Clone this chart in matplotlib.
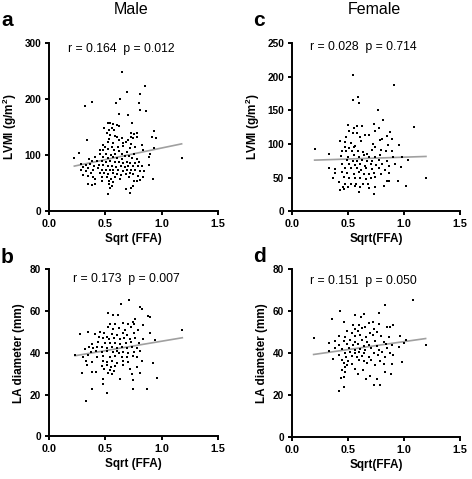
import matplotlib
matplotlib.use("Agg")
import matplotlib.pyplot as plt
import numpy as np

plt.rcParams['font.family'] = ['Liberation Sans', 'DejaVu Sans']
plt.rcParams['mathtext.fontset'] = 'custom'
plt.rcParams['mathtext.bf'] = 'Liberation Sans:bold'
plt.rcParams['mathtext.rm'] = 'Liberation Sans'

# ---------------- data ----------------
# Panel a: Male, LVMI vs Sqrt(FFA)
male_lvmi_x = [0.651,0.849,0.689,0.808,0.630,0.595,0.379,0.319,0.796,0.805,0.864,0.621,0.698,0.739,0.526,0.544,
               0.571,0.600,0.624,0.485,0.559,0.535,0.574,0.935,0.725,0.784,0.754,0.512,0.544,0.586,0.603,0.651,
               0.725,0.745,0.781,0.917,0.949,0.334,0.535,0.624,0.683,0.704,0.526,0.571,0.660,0.728,0.825,0.482,
               0.500,0.556,0.615,0.654,0.719,0.763,0.452,0.482,0.520,0.580,0.624,0.689,0.831,0.935,0.266,0.455,
               0.503,0.547,0.586,0.645,0.674,0.713,0.757,0.896,0.405,0.482,0.520,0.571,0.606,0.645,0.734,0.778,
               0.890,0.225,0.352,0.382,0.429,0.473,0.506,0.541,0.586,0.621,0.660,0.689,0.719,0.763,0.801,1.177,
               0.287,0.325,0.367,0.402,0.441,0.482,0.520,0.556,0.594,0.639,0.674,0.704,0.742,0.787,0.825,0.890,
               0.305,0.349,0.393,0.432,0.467,0.506,0.541,0.571,0.615,0.654,0.689,0.728,0.763,0.808,0.284,0.328,
               0.373,0.452,0.488,0.526,0.565,0.600,0.639,0.680,0.719,0.748,0.846,0.302,0.346,0.388,0.473,0.514,
               0.547,0.586,0.630,0.713,0.793,0.831,0.405,0.473,0.529,0.565,0.754,0.808,0.926,0.349,0.379,0.408,
               0.535,0.784,0.556,0.541,0.683,0.728,0.748,0.719,0.526]
male_lvmi_y = [248,224,212,209,200,193,194,187,192,181,179,174,172,158,158,158,
               155,153,152,149,148,145,144,143,140,139,137,140,136,134,132,130,
               132,130,132,132,130,126,129,127,124,127,123,121,121,120,118,118,
               114,114,114,116,113,114,109,109,110,109,107,105,109,113,104,101,
               102,100,101,101,99,99,101,101,97,96,94,96,94,92,94,93,
               96,94,92,90,90,90,88,89,87,88,85,88,86,86,88,94,
               84,83,84,80,82,83,80,80,79,80,79,80,81,80,80,83,
               78,76,74,76,74,73,73,74,73,72,74,73,74,71,73,71,
               67,67,68,66,67,66,64,66,67,66,71,64,62,60,61,60,
               58,60,58,60,63,60,57,54,54,52,54,55,57,48,47,48,
               48,54,45,41,40,41,44,33,30]

# Panel c: Female, LVMI vs Sqrt(FFA)
female_lvmi_x = [0.548,0.908,0.592,0.548,0.595,0.765,0.809,0.500,0.551,0.583,0.625,0.735,0.774,0.512,0.542,0.580,
                 0.649,0.738,0.875,0.485,0.610,0.690,0.806,0.848,0.426,0.470,0.527,0.565,0.619,0.789,0.893,0.476,
                 0.506,0.557,0.720,0.744,0.798,0.857,0.958,0.202,0.333,0.446,0.485,0.536,0.589,0.631,0.670,0.714,
                 0.839,0.893,0.440,0.500,0.551,0.595,0.640,0.684,0.738,0.789,0.899,0.982,0.491,0.545,0.580,0.625,
                 0.670,0.714,0.780,0.848,1.036,0.446,0.506,0.560,0.604,0.649,0.702,0.750,0.804,0.863,0.917,0.333,
                 0.381,0.476,0.530,0.580,0.619,0.661,0.714,0.774,0.827,0.976,0.387,0.446,0.491,0.551,0.595,0.640,
                 0.684,0.729,0.798,0.863,0.363,0.461,0.512,0.565,0.610,0.661,0.708,0.744,0.848,0.863,0.423,0.476,
                 0.530,0.571,0.631,0.678,0.821,0.946,0.452,0.500,0.560,0.744,0.426,0.467,0.610,0.684,0.601,0.732,
                 1.018,1.196,1.089]
female_lvmi_y = [202,187,170,166,161,151,135,128,124,126,127,129,123,120,117,116,
                 114,120,118,111,110,113,108,112,104,103,102,97,104,106,108,96,
                 94,95,100,95,91,99,98,93,85,89,90,89,90,88,85,91,
                 90,89,82,81,84,81,84,81,81,84,81,80,76,74,75,76,
                 74,75,76,74,76,70,71,69,70,68,70,69,70,68,70,65,
                 63,65,64,65,62,64,63,65,62,66,57,59,57,56,58,56,
                 55,57,56,57,49,51,50,49,50,48,49,51,45,45,43,41,
                 41,41,40,41,38,45,36,36,38,36,32,33,36,34,28,26,
                 38,50,125]

# Panel b: Male, LA diameter vs Sqrt(FFA)
male_la_x = [0.713,0.636,0.810,0.825,0.526,0.571,0.615,0.876,0.763,0.742,0.896,0.541,0.589,0.660,0.704,0.754,
             0.831,0.526,0.571,0.624,0.674,0.728,0.793,0.275,0.343,0.408,0.452,0.488,0.556,0.600,0.654,0.689,
             0.754,0.896,1.183,0.447,0.476,0.512,0.535,0.580,0.630,0.668,0.719,0.763,0.831,0.941,0.438,0.497,
             0.541,0.586,0.630,0.680,0.728,0.801,0.384,0.358,0.393,0.423,0.467,0.512,0.556,0.600,0.645,0.689,
             0.734,0.778,0.319,0.370,0.417,0.467,0.512,0.565,0.600,0.624,0.660,0.704,0.754,0.808,0.231,0.305,
             0.349,0.429,0.482,0.541,0.586,0.645,0.689,0.742,0.784,0.328,0.379,0.476,0.512,0.556,0.600,0.654,
             0.704,0.822,0.340,0.467,0.512,0.547,0.586,0.660,0.926,0.491,0.541,0.577,0.719,0.784,0.290,0.379,
             0.414,0.526,0.556,0.733,0.808,0.955,0.482,0.630,0.742,0.482,0.384,0.748,0.867,0.518,0.325]
male_la_y = [65.1,63.2,62.1,61.0,59.2,57.9,57.9,57.6,56.0,54.9,57.0,53.8,53.6,54.1,53.6,53.8,
             53.3,52.2,51.2,51.7,50.9,52.2,50.9,49.2,49.8,49.2,50.1,49.3,49.0,48.5,49.3,48.4,
             49.3,49.6,51.1,47.7,46.9,47.4,46.4,46.9,46.4,46.9,46.4,46.9,46.6,46.1,45.3,44.9,
             44.5,44.9,44.2,44.5,45.0,44.5,44.2,42.9,42.3,42.9,42.6,42.3,42.9,42.1,42.6,42.1,
             42.6,42.3,41.6,40.5,41.0,40.4,41.0,40.4,40.9,40.1,40.5,40.1,40.4,40.9,38.8,38.1,
             38.8,38.1,38.5,38.1,38.5,37.8,38.1,38.5,37.8,36.2,35.7,36.2,35.6,36.2,35.3,35.9,
             35.6,36.2,34.1,33.7,34.0,33.3,33.7,34.0,34.9,32.1,31.7,31.4,32.4,33.4,30.1,30.9,
             30.9,30.1,29.8,29.8,30.5,27.8,27.3,27.3,27.0,24.9,22.8,22.8,22.8,20.9,17.1]

# Panel d: Female, LA diameter vs Sqrt(FFA)
female_la_x = [0.833,0.432,0.560,0.643,0.780,0.619,0.357,0.464,0.726,0.690,0.774,0.595,0.548,0.655,0.848,0.878,
               0.560,0.625,0.729,0.905,0.491,0.536,0.589,0.699,0.759,0.417,0.476,0.560,0.610,0.661,0.720,0.798,
               0.863,0.967,0.193,0.381,0.461,0.515,0.565,0.625,0.670,0.744,0.818,0.997,1.014,1.193,1.080,0.327,
               0.417,0.491,0.542,0.589,0.640,0.690,0.759,0.839,0.893,0.952,0.381,0.446,0.506,0.565,0.610,0.655,
               0.708,0.780,0.848,0.327,0.470,0.521,0.560,0.595,0.640,0.729,0.804,0.878,0.417,0.482,0.536,0.580,
               0.625,0.684,0.768,0.833,0.902,0.369,0.446,0.500,0.595,0.640,0.708,0.789,0.461,0.491,0.536,0.670,
               0.744,0.818,0.982,0.470,0.446,0.565,0.476,0.631,0.833,0.893,0.589,0.467,0.699,0.440,0.661,0.759,
               0.461,0.417,0.729,0.789,0.881]
female_la_y = [63.1,60.1,58.2,58.5,59.3,57.1,56.1,55.0,55.0,54.2,53.9,53.6,53.3,52.6,52.3,52.3,
               51.4,51.8,51.4,53.4,50.4,49.8,50.7,49.5,50.1,48.2,47.9,48.2,48.7,47.9,48.7,48.2,
               47.9,48.2,47.1,46.0,46.0,46.3,45.5,46.3,45.3,46.0,45.5,45.0,46.3,44.0,65.2,45.0,
               43.9,44.4,43.9,44.4,43.4,43.9,43.4,44.4,43.9,43.1,42.3,41.8,42.3,41.5,42.1,41.5,
               42.3,41.5,42.3,41.2,40.2,40.7,39.9,40.6,39.9,40.2,40.6,39.9,39.0,38.3,38.7,38.0,
               38.7,38.3,39.0,38.3,39.3,37.0,36.7,36.4,36.7,36.1,36.7,36.4,35.1,34.5,34.8,35.1,
               34.2,34.8,35.8,33.2,32.0,32.6,31.0,32.0,31.2,34.8,30.1,28.5,29.1,28.0,27.5,27.5,
               24.0,22.1,25.0,25.0,30.1]

# Regression lines: (slope, intercept)
fit_a = (41.7, 70.8)
fit_c = (5.5, 74.9)
fit_b = (9.05, 36.5)
fit_d = (7.6, 37.9)

stats = {"a": "r = 0.164  p = 0.012", "c": "r = 0.028  p = 0.714",
         "b": "r = 0.173  p = 0.007", "d": "r = 0.151  p = 0.050"}
yticks_a = [0, 100, 200, 300]
yticks_c = [0, 50, 100, 150, 200, 250]
yticks_la = [0, 20, 40, 60, 80]
xticks = [0.0, 0.5, 1.0, 1.5]

# ---------------- figure ----------------
W, H = 472, 479
fig = plt.figure(figsize=(W / 100, H / 100), dpi=100)


def make_ax(l, r, t, b):
    return fig.add_axes([l / W, 1 - b / H, (r - l) / W, (b - t) / H])


panels = [
    ("a", make_ax(49, 218, 43, 211), male_lvmi_x, male_lvmi_y, fit_a, yticks_a, "LVMI (g/m$\\mathbf{^2}$)", "Sqrt (FFA)", (0.64, 289)),
    ("c", make_ax(292, 460, 43, 211.3), female_lvmi_x, female_lvmi_y, fit_c, yticks_c, "LVMI (g/m$\\mathbf{^2}$)", "Sqrt(FFA)", (0.634, 244.5)),
    ("b", make_ax(49, 218, 269.3, 436.3), male_la_x, male_la_y, fit_b, yticks_la, "LA diameter (mm)", "Sqrt (FFA)", (0.688, 75.2)),
    ("d", make_ax(292, 460, 269.3, 437), female_la_x, female_la_y, fit_d, yticks_la, "LA diameter (mm)", "Sqrt(FFA)", (0.641, 74.6)),
]

for key, ax, xs, ys, fit, yt, ylab, xlab, tpos in panels:
    xs = np.asarray(xs)
    ys = np.asarray(ys)
    ax.scatter(xs, ys, s=2.2, marker='s', color='black', linewidths=0, zorder=3)
    lx = np.array([xs.min(), xs.max()])
    ax.plot(lx, fit[0] * lx + fit[1], color='#a0a0a0', lw=1.2, zorder=2)
    ax.set_xlim(0, 1.5)
    ax.set_ylim(0, yt[-1])
    ax.set_xticks(xticks)
    ax.set_xticklabels([f"{v:.1f}" for v in xticks])
    ax.set_yticks(yt)
    ax.set_yticklabels([str(v) for v in yt])
    for s in ("top", "right"):
        ax.spines[s].set_visible(False)
    for s in ("left", "bottom"):
        ax.spines[s].set_linewidth(1.4)
    ax.tick_params(direction='out', length=3, width=1.4, pad=2.5)
    ax.tick_params(axis='x', labelsize=7.8)
    ax.tick_params(axis='y', labelsize=7.2)
    for lab in ax.get_xticklabels() + ax.get_yticklabels():
        lab.set_fontweight('bold')
    ax.set_ylabel(ylab, fontsize=8.5, fontweight='bold', labelpad=4)
    ax.set_xlabel(xlab, fontsize=8.5, fontweight='bold', labelpad=3)
    ax.text(tpos[0], tpos[1], stats[key], ha='center', va='center', fontsize=8.8)
    ax.patch.set_visible(False)

# panel letters
fig.text(1 / W, 1 - 26 / H, "a", fontsize=15, fontweight='bold', ha='left', va='baseline')
fig.text(253 / W, 1 - 26 / H, "c", fontsize=15, fontweight='bold', ha='left', va='baseline')
fig.text(1 / W, 1 - 263 / H, "b", fontsize=15, fontweight='bold', ha='left', va='baseline')
fig.text(253 / W, 1 - 262 / H, "d", fontsize=15, fontweight='bold', ha='left', va='baseline')

# column titles
fig.text(131 / W, 1 - 9 / H, "Male", fontsize=11.5, ha='center', va='center')
fig.text(374 / W, 1 - 9 / H, "Female", fontsize=11.5, ha='center', va='center')

fig.savefig("out.png", dpi=100, facecolor='white')
